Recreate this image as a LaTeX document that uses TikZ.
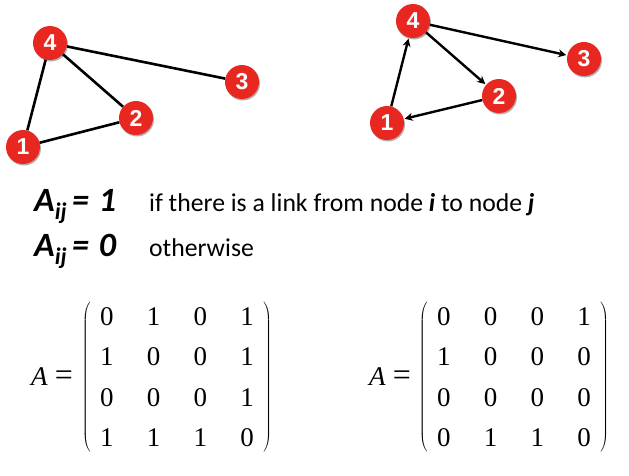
\documentclass[tikz,border=0pt]{standalone}
\usepackage{fontspec}
\setmainfont{Liberation Serif}
\newfontfamily\carl{Carlito}
\newfontfamily\numfont{Liberation Sans}
\usetikzlibrary{arrows.meta,shadows,matrix}
\definecolor{nodered}{RGB}{232,40,32}
\newcommand{\aeq}{\fontsize{27}{27}\selectfont\textit{A}\hspace{7pt}{\fontsize{32}{32}\selectfont=}}
\tikzset{
  vtx/.style={circle, fill=nodered, minimum size=34pt, inner sep=0pt,
    text=white, font=\numfont\fontsize{23}{23}\selectfont\bfseries,
    drop shadow={shadow xshift=1pt, shadow yshift=-1.5pt, opacity=0.3, fill=black}},
  edge/.style={line width=2.6pt, black},
  arc/.style={line width=2.4pt, black, -{Stealth[length=8pt,width=8pt]}, shorten >=1pt},
  txt/.style={inner sep=0pt, anchor=base west},
  adj/.style={matrix of nodes, inner sep=0pt,
    nodes={minimum width=30pt, minimum height=30pt, inner sep=0pt,
      font=\fontsize{27}{27}\selectfont},
    column sep=16.7pt, row sep=10.4pt,
    left delimiter=(, right delimiter=)},
}
\begin{document}
\begin{tikzpicture}[x=1pt,y=-1pt]
\useasboundingbox (0,0) rectangle (629,475);
% undirected graph
\node[vtx] (l4) at (50,43) {4};
\node[vtx] (l3) at (242,82) {3};
\node[vtx] (l2) at (136,118) {2};
\node[vtx] (l1) at (23,147) {1};
\draw[edge] (l4) -- (l3);
\draw[edge] (l4) -- (l2);
\draw[edge] (l4) -- (l1);
\draw[edge] (l1) -- (l2);
% directed graph
\node[vtx] (r4) at (413,21) {4};
\node[vtx] (r3) at (584,59) {3};
\node[vtx] (r2) at (499,96) {2};
\node[vtx] (r1) at (387,123) {1};
\draw[arc] (r1) -- (r4);
\draw[arc] (r4) -- (r2);
\draw[arc] (r4) -- (r3);
\draw[arc] (r2) -- (r1);
% definitions
\node[txt] (d1) at (34,211) {\carl\fontsize{34}{34}\selectfont\bfseries\itshape A\textsubscript{ij}\hspace{5pt}=\hspace{2pt} 1};
\node[txt] (e1) at (149,211) {\carl\fontsize{25.7}{26}\selectfont if there is a link from node \textbf{\textit{i}} to node \textbf{\textit{j}}};
\node[txt] (d2) at (34,256) {\carl\fontsize{34}{34}\selectfont\bfseries\itshape A\textsubscript{ij}\hspace{5pt}=\hspace{2pt} 0};
\node[txt] (e2) at (149,256) {\carl\fontsize{25.7}{26}\selectfont otherwise};
% matrices
\node[txt] (al) at (31,385) {\aeq};
\matrix (ml) [adj] at (177,377) {
0 & 1 & 0 & 1 \\
1 & 0 & 0 & 1 \\
0 & 0 & 0 & 1 \\
1 & 1 & 1 & 0 \\
};
\node[txt] (ar) at (369,385) {\aeq};
\matrix (mr) [adj] at (514,377) {
0 & 0 & 0 & 1 \\
1 & 0 & 0 & 0 \\
0 & 0 & 0 & 0 \\
0 & 1 & 1 & 0 \\
};
\end{tikzpicture}
\end{document}
